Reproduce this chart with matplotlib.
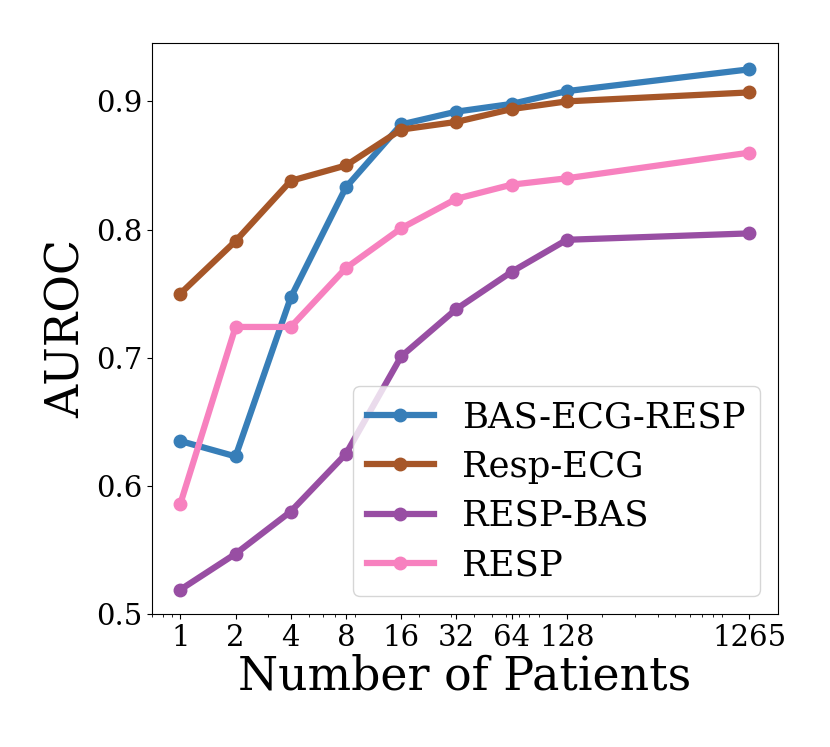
import matplotlib
matplotlib.use("Agg")
import matplotlib.pyplot as plt

# Veri
patients = [1, 2, 4, 8, 16, 32, 64, 128, 1265]
bas_ecg_resp = [0.635, 0.623, 0.747, 0.833, 0.882, 0.892, 0.898, 0.908, 0.925]
resp_ecg = [0.750, 0.791, 0.838, 0.850, 0.878, 0.884, 0.894, 0.900, 0.907]
resp_bas = [0.519, 0.547, 0.580, 0.625, 0.701, 0.738, 0.767, 0.792, 0.797]
resp = [0.586, 0.724, 0.724, 0.770, 0.801, 0.824, 0.835, 0.840, 0.860]

series = [
    ("BAS-ECG-RESP", bas_ecg_resp, "#377eb8"),
    ("Resp-ECG", resp_ecg, "#a65628"),
    ("RESP-BAS", resp_bas, "#984ea3"),
    ("RESP", resp, "#f781bf"),
]

plt.rcParams["font.family"] = "DejaVu Serif"

fig = plt.figure(figsize=(8.3, 7.47), dpi=100)
ax = fig.add_axes([0.183, 0.178, 0.754, 0.764])

for label, vals, color in series:
    ax.plot(patients, vals, color=color, linewidth=4.5, marker="o",
            markersize=9, label=label)

ax.set_xscale("log")
ax.set_xticks(patients)
ax.set_xticklabels([str(p) for p in patients])
ax.set_ylim(bottom=0.5)
ax.set_yticks([0.5, 0.6, 0.7, 0.8, 0.9])
ax.tick_params(axis="both", labelsize=21)

ax.set_xlabel("Number of Patients", fontsize=33, labelpad=2)
ax.set_ylabel("AUROC", fontsize=33)

ax.legend(loc="lower right", fontsize=25.5, numpoints=1, handlelength=1.9,
          labelspacing=0.43)

plt.savefig("out.png", dpi=100)
